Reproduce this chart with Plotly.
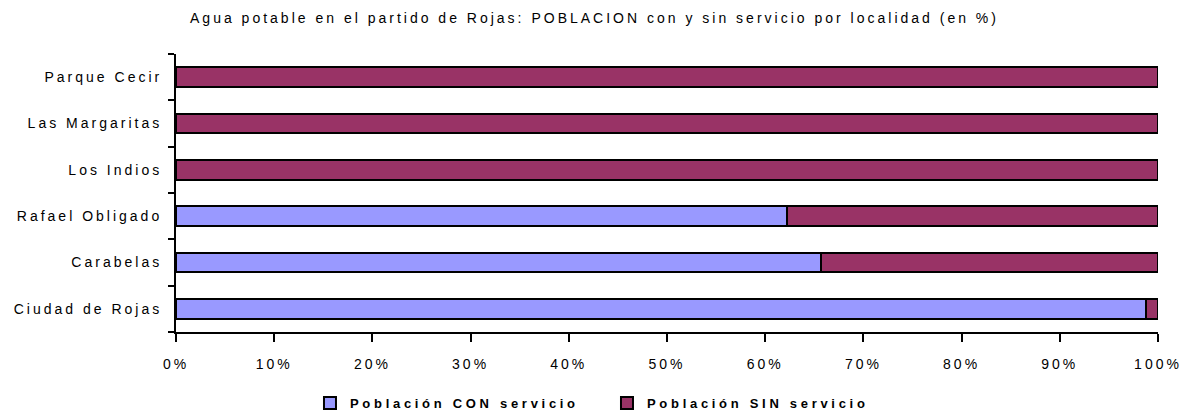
import plotly.graph_objects as go

localidades = ["Ciudad de Rojas", "Carabelas", "Rafael Obligado",
               "Los Indios", "Las Margaritas", "Parque Cecir"]
con_servicio = [98.8, 65.7, 62.2, 0, 0, 0]
sin_servicio = [1.2, 34.3, 37.8, 100, 100, 100]
tick_vals = [0, 10, 20, 30, 40, 50, 60, 70, 80, 90, 100]
tick_text = ["0%", "10%", "20%", "30%", "40%", "50%", "60%", "70%", "80%", "90%", "100%"]

fig = go.Figure()
fig.add_trace(go.Bar(y=localidades, x=con_servicio, orientation="h",
                     name="Población CON servicio",
                     marker=dict(color="#9999FF", line=dict(color="black", width=2))))
fig.add_trace(go.Bar(y=localidades, x=sin_servicio, orientation="h",
                     name="Población SIN servicio",
                     marker=dict(color="#993366", line=dict(color="black", width=2))))

fig.update_layout(
    width=1189, height=415,
    barmode="stack", bargap=0.57,
    paper_bgcolor="white", plot_bgcolor="white",
    font=dict(family="Liberation Sans, Arial", size=14, color="black"),
    margin=dict(l=176, r=31, t=54, b=83),
    title=dict(text="Agua potable en el partido de Rojas: POBLACION con y sin servicio por localidad (en %)",
               x=0.5, xref="container", xanchor="center",
               y=1 - 18 / 415, yref="container", yanchor="middle",
               font=dict(size=14)),
    legend=dict(orientation="h", x=0.5105, xanchor="center", xref="container",
                y=1 - 403 / 415, yref="container", yanchor="middle",
                font=dict(size=13, weight="bold"), itemwidth=30,
                entrywidth=252, traceorder="normal"),
    showlegend=True,
)
fig.update_xaxes(range=[0, 100], tickvals=tick_vals, ticktext=tick_text,
                 showgrid=False, zeroline=False, showline=True, automargin=False,
                 linecolor="black", linewidth=2,
                 ticks="outside", ticklen=8, tickwidth=2, tickcolor="black",
                 ticklabelstandoff=10)
fig.update_yaxes(categoryorder="array", categoryarray=localidades, automargin=False,
                 showgrid=False, showline=True, linecolor="black", linewidth=2,
                 ticks="outside", tickson="boundaries", ticklen=6, tickwidth=2,
                 tickcolor="black", ticklabelstandoff=9)

# letter-spaced text like the original, then redraw so sizes get measured again
post = """
var gd = document.getElementById('{plot_id}');
var st = document.createElement('style');
st.textContent = 'body { margin: 0; } svg text { letter-spacing: 3px; } svg text.legendtext { letter-spacing: 3.7px; }';
document.head.appendChild(st);
return Plotly.relayout(gd, {'font.family': 'Liberation Sans, Arial, sans-serif'});
"""
fig.write_html("out.html", post_script=post, config={"displayModeBar": False})
